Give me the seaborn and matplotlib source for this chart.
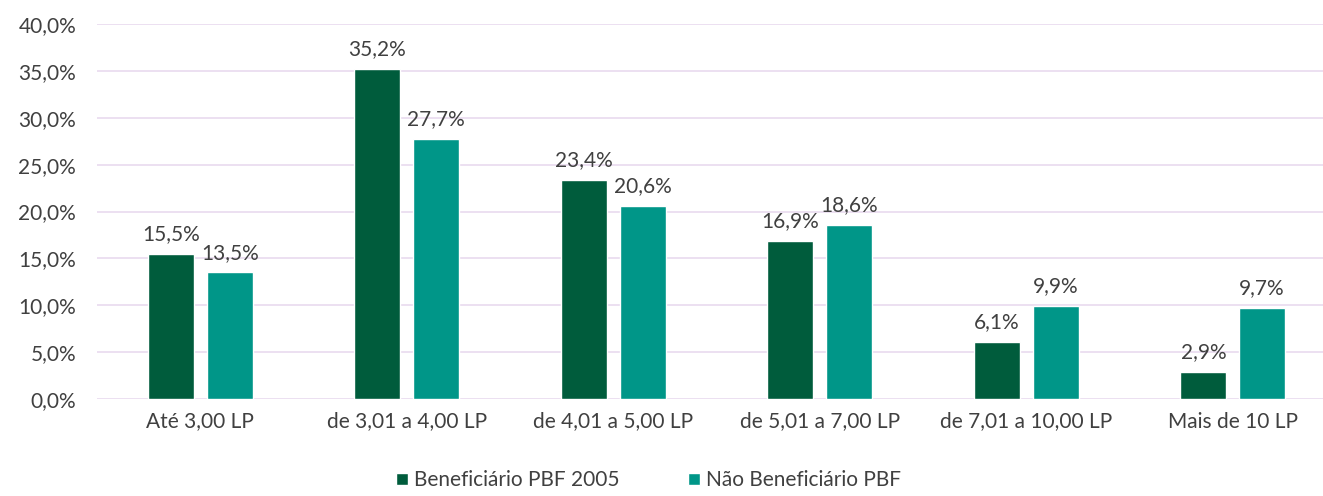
import seaborn as sns
import pandas as pd
import matplotlib.pyplot as plt
from matplotlib.ticker import FuncFormatter

faixas = ["Até 3,00 LP", "de 3,01 a 4,00 LP", "de 4,01 a 5,00 LP",
          "de 5,01 a 7,00 LP", "de 7,01 a 10,00 LP", "Mais de 10 LP"]
beneficiario = [15.5, 35.2, 23.4, 16.9, 6.1, 2.9]
nao_beneficiario = [13.5, 27.7, 20.6, 18.6, 9.9, 9.7]
series = ["Beneficiário PBF 2005", "Não Beneficiário PBF"]
cores = ["#005C3C", "#009688"]

df = pd.DataFrame({
    "faixa": faixas * 2,
    "valor": beneficiario + nao_beneficiario,
    "grupo": [series[0]] * len(faixas) + [series[1]] * len(faixas),
})

sns.set_theme(style="white")
plt.rcParams["font.family"] = ["Lato", "DejaVu Sans"]
texto = "#404040"
fs = 15

fig = plt.figure(figsize=(13.23, 4.96), dpi=100)
ax = fig.add_axes([97 / 1323, 1 - 399 / 496, 1 - 97 / 1323, 375 / 496])

sns.barplot(data=df, x="faixa", y="valor", hue="grupo", palette=cores,
            width=0.57, gap=0.22, ax=ax, saturation=1, zorder=3)

for cont in ax.containers:
    ax.bar_label(cont, labels=[f"{v:.1f}%".replace(".", ",") for v in cont.datavalues],
                 padding=7, fontsize=fs, color=texto)

ax.set_ylim(0, 40)
ax.set_xlim(-0.5, 5.5 - 13 / 206.6)
ax.set_yticks(range(0, 41, 5))
ax.yaxis.set_major_formatter(FuncFormatter(lambda v, p: f"{v:.1f}%".replace(".", ",")))
ax.grid(axis="y", color="#EBDDF0", linewidth=1.3, zorder=0)
ax.tick_params(axis="both", labelsize=fs, colors=texto, length=0)
ax.tick_params(axis="y", pad=15)
ax.tick_params(axis="x", pad=9)
ax.set_xlabel("")
ax.set_ylabel("")
for s in ax.spines.values():
    s.set_visible(False)

leg = ax.legend(loc="upper center", bbox_to_anchor=(0.45, -0.14), ncol=2,
                frameon=False, fontsize=fs, handlelength=0.55, handleheight=0.55,
                handletextpad=0.3, columnspacing=3.3)
for t in leg.get_texts():
    t.set_color(texto)

fig.savefig("out.png", dpi=100)
